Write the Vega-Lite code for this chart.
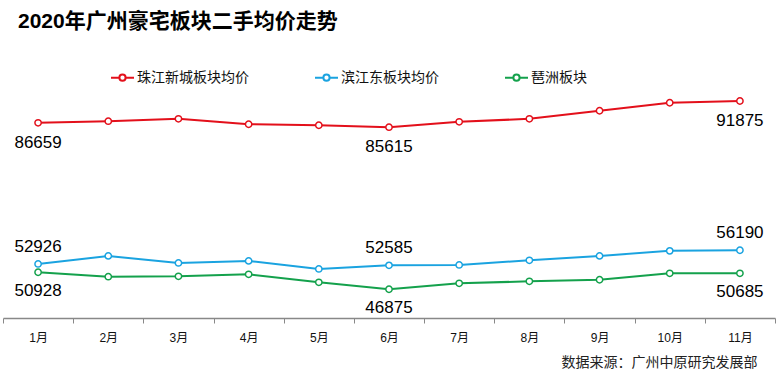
{
  "$schema": "https://vega.github.io/schema/vega-lite/v6.json",
  "width": 772,
  "height": 251,
  "autosize": "none",
  "padding": {"left": 3, "top": 67, "right": 9, "bottom": 54},
  "background": "#ffffff",
  "title": {
    "text": "2020年广州豪宅板块二手均价走势",
    "anchor": "start",
    "frame": "group",
    "dx": 15,
    "offset": 16,
    "baseline": "alphabetic",
    "font": "Liberation Sans, Noto Sans CJK SC",
    "fontSize": 21,
    "fontWeight": "bold",
    "color": "#000000"
  },
  "config": {
    "view": {"stroke": null},
    "font": "Liberation Sans, Noto Sans CJK SC"
  },
  "data": {
    "values": [
      {"m": "1月", "s": "珠江新城板块均价", "v": 86659, "lbl": true},
      {"m": "2月", "s": "珠江新城板块均价", "v": 87043, "lbl": false},
      {"m": "3月", "s": "珠江新城板块均价", "v": 87619, "lbl": false},
      {"m": "4月", "s": "珠江新城板块均价", "v": 86323, "lbl": false},
      {"m": "5月", "s": "珠江新城板块均价", "v": 86083, "lbl": false},
      {"m": "6月", "s": "珠江新城板块均价", "v": 85615, "lbl": true},
      {"m": "7月", "s": "珠江新城板块均价", "v": 86899, "lbl": false},
      {"m": "8月", "s": "珠江新城板块均价", "v": 87619, "lbl": false},
      {"m": "9月", "s": "珠江新城板块均价", "v": 89539, "lbl": false},
      {"m": "10月", "s": "珠江新城板块均价", "v": 91459, "lbl": false},
      {"m": "11月", "s": "珠江新城板块均价", "v": 91875, "lbl": true},
      {"m": "1月", "s": "滨江东板块均价", "v": 52926, "lbl": true},
      {"m": "2月", "s": "滨江东板块均价", "v": 54846, "lbl": false},
      {"m": "3月", "s": "滨江东板块均价", "v": 53166, "lbl": false},
      {"m": "4月", "s": "滨江东板块均价", "v": 53646, "lbl": false},
      {"m": "5月", "s": "滨江东板块均价", "v": 51726, "lbl": false},
      {"m": "6月", "s": "滨江东板块均价", "v": 52585, "lbl": true},
      {"m": "7月", "s": "滨江东板块均价", "v": 52686, "lbl": false},
      {"m": "8月", "s": "滨江东板块均价", "v": 53790, "lbl": false},
      {"m": "9月", "s": "滨江东板块均价", "v": 54846, "lbl": false},
      {"m": "10月", "s": "滨江东板块均价", "v": 56046, "lbl": false},
      {"m": "11月", "s": "滨江东板块均价", "v": 56190, "lbl": true},
      {"m": "1月", "s": "琶洲板块", "v": 50928, "lbl": true},
      {"m": "2月", "s": "琶洲板块", "v": 49872, "lbl": false},
      {"m": "3月", "s": "琶洲板块", "v": 49968, "lbl": false},
      {"m": "4月", "s": "琶洲板块", "v": 50448, "lbl": false},
      {"m": "5月", "s": "琶洲板块", "v": 48528, "lbl": false},
      {"m": "6月", "s": "琶洲板块", "v": 46875, "lbl": true},
      {"m": "7月", "s": "琶洲板块", "v": 48288, "lbl": false},
      {"m": "8月", "s": "琶洲板块", "v": 48768, "lbl": false},
      {"m": "9月", "s": "琶洲板块", "v": 49152, "lbl": false},
      {"m": "10月", "s": "琶洲板块", "v": 50688, "lbl": false},
      {"m": "11月", "s": "琶洲板块", "v": 50685, "lbl": true}
    ]
  },
  "encoding": {
    "x": {
      "field": "m",
      "type": "ordinal",
      "sort": null,
      "scale": {"type": "band", "paddingInner": 0, "paddingOuter": 0},
      "axis": {
        "title": "数据来源：广州中原研究发展部",
        "titleFont": "Liberation Sans, Noto Sans CJK SC",
        "titleFontSize": 14,
        "titleFontWeight": "normal",
        "titleColor": "#222222",
        "titleAnchor": "end",
        "titleAlign": "right",
        "titleBaseline": "middle",
        "titleX": 754,
        "titleY": 44,
        "labelAngle": 0,
        "labelFontSize": 12,
        "labelColor": "#111111",
        "labelPadding": 9,
        "tickBand": "extent",
        "tickSize": 5,
        "tickColor": "#888888",
        "domainColor": "#888888",
        "domainWidth": 1.5,
        "grid": false
      }
    },
    "y": {
      "field": "v",
      "type": "quantitative",
      "scale": {"domain": [40000, 100000], "nice": false, "zero": false},
      "axis": null
    },
    "color": {
      "field": "s",
      "type": "nominal",
      "scale": {
        "domain": ["珠江新城板块均价", "滨江东板块均价", "琶洲板块"],
        "range": ["#e3101b", "#1aa3e0", "#14a14c"]
      },
      "legend": {
        "title": null,
        "orient": "none",
        "direction": "horizontal",
        "legendX": 107,
        "legendY": -2,
        "padding": 0,
        "columnPadding": 62,
        "symbolType": "M-1,0H-0.27M0.27,0H1M0.27,0A0.27,0.27,0,1,1,-0.27,0A0.27,0.27,0,1,1,0.27,0",
        "symbolSize": 529,
        "symbolStrokeWidth": 2,
        "symbolFillColor": "#ffffff",
        "labelFontSize": 14,
        "labelColor": "#111111",
        "labelOffset": 2,
        "labelFont": "Liberation Sans, Noto Sans CJK SC"
      }
    }
  },
  "layer": [
    {"mark": {"type": "line", "strokeWidth": 2}},
    {"mark": {"type": "point", "filled": false, "fill": "#ffffff", "fillOpacity": 1, "opacity": 1, "size": 40, "strokeWidth": 1.5}},
    {
      "transform": [{"filter": "datum.lbl && datum.s == '珠江新城板块均价'"}],
      "mark": {"type": "text", "dy": 20, "fontSize": 17, "font": "Liberation Sans"},
      "encoding": {"text": {"field": "v", "type": "nominal"}, "color": {"value": "#000000"}}
    },
    {
      "transform": [{"filter": "datum.lbl && datum.s == '滨江东板块均价'"}],
      "mark": {"type": "text", "dy": -17, "fontSize": 17, "font": "Liberation Sans"},
      "encoding": {"text": {"field": "v", "type": "nominal"}, "color": {"value": "#000000"}}
    },
    {
      "transform": [{"filter": "datum.lbl && datum.s == '琶洲板块'"}],
      "mark": {"type": "text", "dy": 19, "fontSize": 17, "font": "Liberation Sans"},
      "encoding": {"text": {"field": "v", "type": "nominal"}, "color": {"value": "#000000"}}
    }
  ]
}
